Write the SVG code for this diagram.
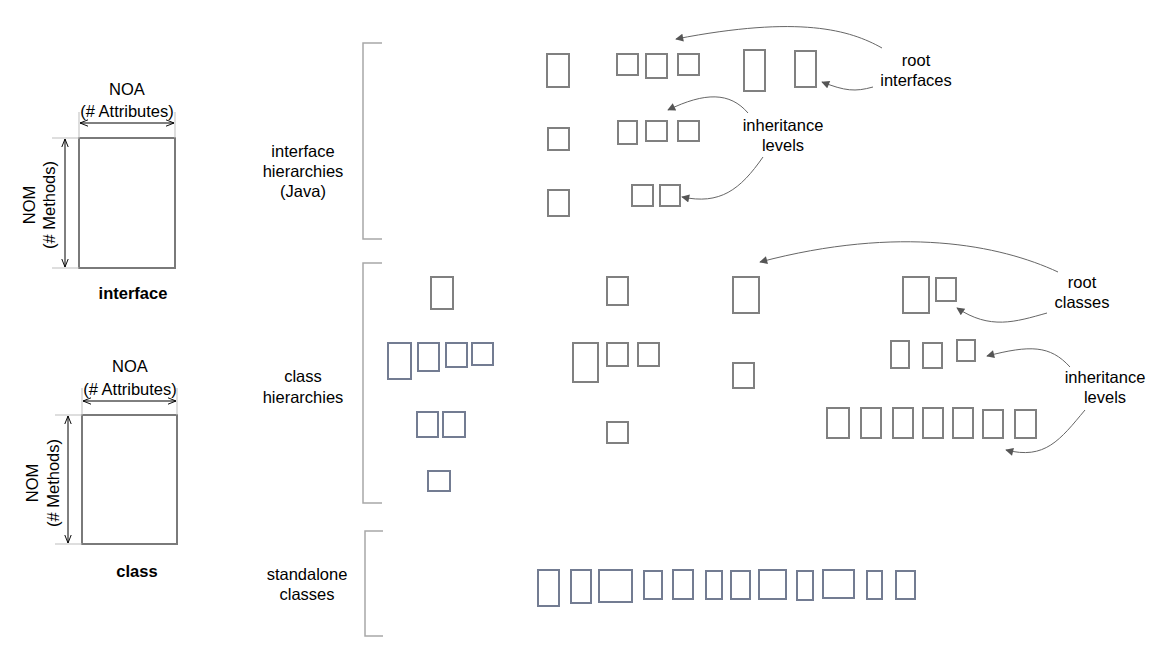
<svg xmlns="http://www.w3.org/2000/svg" width="1168" height="658" viewBox="0 0 1168 658">
<defs>
<style>
.t{font-family:"Liberation Sans",Arial,Helvetica,sans-serif;font-size:16.5px;fill:#000;text-anchor:middle}
.b{font-weight:bold}
.g rect{fill:none;stroke:#808080;stroke-width:2}
.s rect{fill:none;stroke:#737c92;stroke-width:2}
.box{fill:none;stroke:#7a7a7a;stroke-width:2}
.ext{stroke:#bdbdbd;stroke-width:1;fill:none}
.dim{stroke:#000;stroke-width:1;fill:none}
.br{stroke:#a8a8a8;stroke-width:1.5;fill:none}
.c{stroke:#666;stroke-width:1;fill:none;marker-end:url(#ah)}
</style>
<marker id="ah" viewBox="0 0 10 10" refX="9" refY="5" markerWidth="10" markerHeight="8" markerUnits="userSpaceOnUse" orient="auto">
<path d="M0,0 L10,5 L0,10 Z" fill="#555"/>
</marker>
<marker id="oa" viewBox="0 0 10 10" refX="10" refY="5" markerWidth="8" markerHeight="8" markerUnits="userSpaceOnUse" orient="auto-start-reverse">
<path d="M0,1 L10,5 L0,9" fill="none" stroke="#000" stroke-width="1.2"/>
</marker>
</defs>
<rect width="1168" height="658" fill="#fff"/>

<g id="legend-interface">
<rect class="box" x="79" y="138" width="96" height="130"/>
<path class="ext" d="M79,112 V138 M175,112 V138 M52,138 H79 M52,268 H79"/>
<line class="dim" x1="80" y1="123" x2="174" y2="123" marker-start="url(#oa)" marker-end="url(#oa)"/>
<line class="dim" x1="65" y1="139" x2="65" y2="267" marker-start="url(#oa)" marker-end="url(#oa)"/>
<text class="t" x="127" y="95">NOA</text>
<text class="t" x="127" y="117">(# Attributes)</text>
<text class="t" transform="translate(35,205) rotate(-90)">NOM</text>
<text class="t" transform="translate(55,205) rotate(-90)">(# Methods)</text>
<text class="t b" x="133" y="299">interface</text>
</g>

<g id="legend-class">
<rect class="box" x="82" y="415" width="95" height="129"/>
<path class="ext" d="M82,388 V415 M177,388 V415 M55,415 H82 M55,544 H82"/>
<line class="dim" x1="83" y1="401" x2="176" y2="401" marker-start="url(#oa)" marker-end="url(#oa)"/>
<line class="dim" x1="68" y1="416" x2="68" y2="543" marker-start="url(#oa)" marker-end="url(#oa)"/>
<text class="t" x="130" y="372">NOA</text>
<text class="t" x="130" y="395">(# Attributes)</text>
<text class="t" transform="translate(38,483) rotate(-90)">NOM</text>
<text class="t" transform="translate(59,483) rotate(-90)">(# Methods)</text>
<text class="t b" x="137" y="577">class</text>
</g>

<g id="group-interfaces">
<path class="br" d="M382,43 H363 V239 H382"/>
<text class="t" x="303" y="157">interface</text>
<text class="t" x="303" y="177">hierarchies</text>
<text class="t" x="303" y="197">(Java)</text>
<g class="g">
<rect x="547" y="54" width="22" height="33"/>
<rect x="617" y="54" width="21" height="21"/>
<rect x="646" y="54" width="21" height="24"/>
<rect x="678" y="54" width="21" height="21"/>
<rect x="744" y="50" width="21" height="41"/>
<rect x="795" y="51" width="21" height="36"/>
<rect x="548" y="128" width="21" height="22"/>
<rect x="618" y="121" width="19" height="23"/>
<rect x="646" y="121" width="21" height="20"/>
<rect x="678" y="121" width="21" height="20"/>
<rect x="548" y="190" width="21" height="26"/>
<rect x="632" y="185" width="21" height="21"/>
<rect x="660" y="185" width="20" height="21"/>
</g>
<text class="t" x="916" y="66">root</text>
<text class="t" x="916" y="86">interfaces</text>
<text class="t" x="783" y="131">inheritance</text>
<text class="t" x="783" y="151">levels</text>
</g>

<g id="group-classes">
<path class="br" d="M382,263 H363 V503 H382"/>
<text class="t" x="303" y="382">class</text>
<text class="t" x="303" y="403">hierarchies</text>
<g class="g">
<rect x="431" y="277" width="22" height="32"/>
<rect x="607" y="277" width="21" height="28"/>
<rect x="573" y="343" width="25" height="39"/>
<rect x="607" y="343" width="21" height="23"/>
<rect x="638" y="343" width="21" height="23"/>
<rect x="607" y="422" width="21" height="21"/>
<rect x="733" y="277" width="26" height="36"/>
<rect x="733" y="363" width="21" height="25"/>
<rect x="903" y="277" width="26" height="36"/>
<rect x="936" y="278" width="20" height="23"/>
<rect x="891" y="341" width="18" height="27"/>
<rect x="923" y="343" width="19" height="25"/>
<rect x="957" y="340" width="18" height="21"/>
<rect x="827" y="408" width="22" height="30"/>
<rect x="861" y="408" width="20" height="30"/>
<rect x="893" y="408" width="20" height="30"/>
<rect x="923" y="408" width="20" height="30"/>
<rect x="953" y="408" width="20" height="30"/>
<rect x="983" y="410" width="20" height="28"/>
<rect x="1015" y="410" width="21" height="28"/>
</g>
<g class="s">
<rect x="388" y="343" width="23" height="36"/>
<rect x="418" y="343" width="21" height="28"/>
<rect x="446" y="343" width="21" height="24"/>
<rect x="472" y="343" width="21" height="22"/>
<rect x="417" y="412" width="21" height="25"/>
<rect x="443" y="412" width="22" height="25"/>
<rect x="428" y="471" width="22" height="20"/>
</g>
<text class="t" x="1082" y="288">root</text>
<text class="t" x="1082" y="308">classes</text>
<text class="t" x="1105" y="383">inheritance</text>
<text class="t" x="1105" y="403">levels</text>
</g>

<g id="group-standalone">
<path class="br" d="M383,531 H365 V636 H383"/>
<text class="t" x="307" y="580">standalone</text>
<text class="t" x="307" y="600">classes</text>
<g class="s">
<rect x="538" y="570" width="21" height="36"/>
<rect x="571" y="570" width="20" height="33"/>
<rect x="599" y="570" width="33" height="32"/>
<rect x="644" y="571" width="18" height="28"/>
<rect x="673" y="570" width="20" height="29"/>
<rect x="706" y="571" width="16" height="28"/>
<rect x="731" y="571" width="19" height="28"/>
<rect x="759" y="570" width="27" height="29"/>
<rect x="797" y="571" width="16" height="29"/>
<rect x="823" y="570" width="31" height="28"/>
<rect x="867" y="571" width="15" height="28"/>
<rect x="896" y="571" width="19" height="28"/>
</g>
</g>

<g id="connectors">
<path class="c" d="M882,48 C850,30 800,15 676,39"/>
<path class="c" d="M873,87 C855,92 845,91 822,82"/>
<path class="c" d="M748,113 C730,92 705,92 668,110"/>
<path class="c" d="M763,157 C740,190 720,205 682,197"/>
<path class="c" d="M1058,272 C1000,245 900,225 760,262"/>
<path class="c" d="M1047,313 C1015,322 990,330 957,308"/>
<path class="c" d="M1070,367 C1050,345 1030,345 987,356"/>
<path class="c" d="M1085,410 C1060,440 1045,460 1006,450"/>
</g>
</svg>
